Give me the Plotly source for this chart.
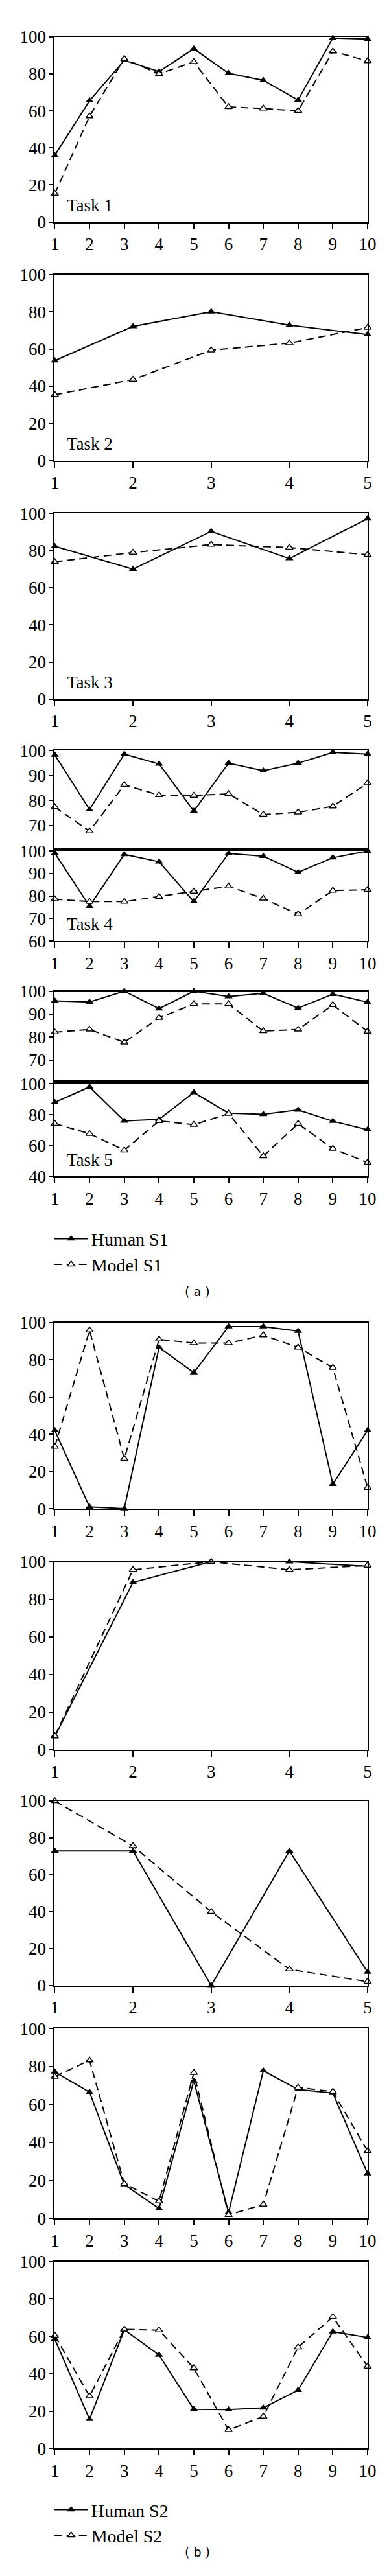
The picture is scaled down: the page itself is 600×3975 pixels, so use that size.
import plotly.graph_objects as go

# x positions (trials)
x10 = [1, 2, 3, 4, 5, 6, 7, 8, 9, 10]
x5 = [1, 2, 3, 4, 5]

# (a) subject S1
task1_human = [36, 65.5, 87.3, 81.2, 93.5, 80.3, 76.5, 65.8, 99.3, 98.8]
task1_model = [15.3, 57.1, 88.1, 80, 86.4, 62.1, 61.3, 60, 92.1, 86.9]
task2_human = [53.8, 72.2, 80.1, 72.9, 67.8]
task2_model = [35.4, 43.6, 59.4, 63.2, 71.6]
task3_human = [82.3, 70, 90.3, 75.7, 97.1]
task3_model = [73.9, 78.9, 83.2, 81.6, 77.7]
task4a_human = [98.3, 76.4, 98.6, 94.7, 75.8, 95, 92, 95, 99.3, 98.6]
task4a_model = [77.4, 67.7, 86.3, 82.2, 82, 82.7, 74.4, 75.3, 77.7, 87]
task4b_human = [99, 75.5, 98.5, 95.2, 77.5, 98.9, 97.7, 90.5, 97, 100]
task4b_model = [78.6, 77.5, 77.5, 79.7, 82, 84.3, 78.9, 71.9, 82.4, 82.8]
task5a_human = [95.8, 95.3, 100, 92.4, 100, 97.7, 99.1, 92.6, 98.7, 95.2]
task5a_model = [82.1, 83.3, 77.7, 88.4, 94.4, 94.4, 82.6, 83.3, 94, 82.4]
task5b_human = [88, 98, 76, 77, 94.4, 81, 80.3, 83.1, 75.8, 70.3]
task5b_model = [74.2, 67.7, 57, 76, 73.5, 80.7, 53.2, 74.2, 58, 49]

# (b) subject S2
b1_human = [42.1, 1.1, 0.2, 86.6, 73.1, 97.8, 97.8, 95.4, 13.3, 42.1]
b1_model = [33.4, 95.8, 26.9, 90.9, 88.9, 88.9, 93.2, 86.6, 75.7, 11.4]
b2_human = [6.9, 89, 100, 100, 97.5]
b2_model = [7.2, 95.7, 100, 95.7, 98]
b3_human = [72.9, 72.9, 0, 72.9, 7.3]
b3_model = [100, 75.6, 40, 8.8, 2.1]
b4_human = [77.2, 66.5, 17.8, 5.2, 72.5, 3.1, 77.8, 67.9, 66, 23.6]
b4_model = [74.7, 83.3, 18.3, 9, 76.7, 1.8, 7.3, 69, 66.8, 35.5]
b5_human = [58.5, 15.7, 63.5, 50, 21, 20.8, 21.8, 31.2, 62.5, 59.4]
b5_model = [60.4, 28, 63.7, 63.3, 43, 10, 17.2, 54.2, 70.4, 43.9]

W, H = 600, 3975
L, R = 72, 572
serif = "Liberation Serif"

# panel: (x, human, model, top px, bottom px, yrange, yticks, x labels?, task label, label y frac)
panels = [
    (x10, task1_human, task1_model, 34, 322, [0, 100], [0, 20, 40, 60, 80, 100], True, "Task 1", 0.09),
    (x5, task2_human, task2_model, 404, 693, [0, 100], [0, 20, 40, 60, 80, 100], True, "Task 2", 0.09),
    (x5, task3_human, task3_model, 775, 1064, [0, 100], [0, 20, 40, 60, 80, 100], True, "Task 3", 0.09),
    (x10, task4a_human, task4a_model, 1144, 1296, [60.8, 100], [70, 80, 90, 100], False, None, 0),
    (x10, task4b_human, task4b_model, 1300, 1440, [60, 100], [60, 70, 80, 90, 100], True, "Task 4", 0.19),
    (x10, task5a_human, task5a_model, 1518, 1657, [61, 100], [70, 80, 90, 100], False, None, 0),
    (x10, task5b_human, task5b_model, 1662, 1806, [40, 100], [40, 60, 80, 100], True, "Task 5", 0.18),
    (x10, b1_human, b1_model, 2033, 2323, [0, 100], [0, 20, 40, 60, 80, 100], True, None, 0),
    (x5, b2_human, b2_model, 2405, 2697, [0, 100], [0, 20, 40, 60, 80, 100], True, None, 0),
    (x5, b3_human, b3_model, 2777, 3064, [0, 100], [0, 20, 40, 60, 80, 100], True, None, 0),
    (x10, b4_human, b4_model, 3131, 3426, [0, 100], [0, 20, 40, 60, 80, 100], True, None, 0),
    (x10, b5_human, b5_model, 3493, 3784, [0, 100], [0, 20, 40, 60, 80, 100], True, None, 0),
]

fig = go.Figure()
layout = {}
annotations = []

for i, (xs, hum, mod, top, bot, yr, yt, xlab, task, ty) in enumerate(panels):
    n = "" if i == 0 else str(i + 1)
    xa, ya = "x" + n, "y" + n
    s2 = i >= 7
    first = i == 0 or i == 7
    fig.add_trace(go.Scatter(
        x=xs, y=hum, xaxis=xa, yaxis=ya, mode="lines+markers",
        name="Human S2" if s2 else "Human S1", legend="legend2" if s2 else "legend",
        showlegend=first, cliponaxis=False,
        line=dict(color="black", width=2),
        marker=dict(symbol="triangle-up", size=11, color="black")))
    fig.add_trace(go.Scatter(
        x=xs, y=mod, xaxis=xa, yaxis=ya, mode="lines+markers",
        name="Model S2" if s2 else "Model S1", legend="legend2" if s2 else "legend",
        showlegend=first, cliponaxis=False,
        line=dict(color="black", width=2, dash="12px,7px"),
        marker=dict(symbol="triangle-up", size=10, color="white",
                    line=dict(color="black", width=1.5))))
    layout["xaxis" + n] = dict(
        domain=[L / W, R / W], anchor=ya, range=[1, len(xs)], tickvals=xs,
        showticklabels=xlab, ticks="outside" if xlab else "", ticklen=9, tickwidth=2,
        tickcolor="black", showline=True, mirror=True, linecolor="black", linewidth=2,
        showgrid=False, zeroline=False,
        tickfont=dict(family=serif, size=27, color="black"))
    layout["yaxis" + n] = dict(
        domain=[1 - bot / H, 1 - top / H], anchor=xa, range=yr, tickvals=yt,
        ticks="outside", ticklen=6, tickwidth=2, tickcolor="black",
        showline=True, mirror=True, linecolor="black", linewidth=2,
        showgrid=False, zeroline=False,
        tickfont=dict(family=serif, size=27, color="black"))
    if task:
        annotations.append(dict(
            text=task, xref=xa + " domain", yref=ya + " domain", x=0.035, y=ty,
            xanchor="left", yanchor="middle", showarrow=False,
            font=dict(family=serif, size=27, color="black")))

annotations.append(dict(text="( a )", xref="paper", yref="paper", x=0.5, y=1 - 1985 / H,
                        showarrow=False, font=dict(family="DejaVu Sans", size=19, color="black")))
annotations.append(dict(text="( b )", xref="paper", yref="paper", x=0.5, y=1 - 3958 / H,
                        showarrow=False, font=dict(family="DejaVu Sans", size=19, color="black")))

legend_style = dict(xanchor="left", yanchor="top", bgcolor="rgba(0,0,0,0)",
                    font=dict(family=serif, size=28, color="black"),
                    tracegroupgap=0, itemwidth=52)

fig.update_layout(
    width=W, height=H, margin=dict(l=0, r=0, t=0, b=0),
    paper_bgcolor="white", plot_bgcolor="white",
    legend=dict(x=66 / W, y=1 - 1878 / H, **legend_style),
    legend2=dict(x=66 / W, y=1 - 3854 / H, **legend_style),
    annotations=annotations,
    **layout)

fig.write_html("out.html")
